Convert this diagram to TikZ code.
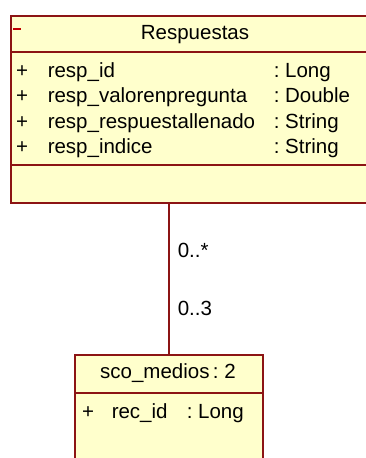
\documentclass[tikz,border=0pt]{standalone}
\usepackage{fontspec}
\setmainfont{Liberation Sans}
\definecolor{classfill}{RGB}{255,255,204}
\definecolor{classline}{RGB}{140,20,20}
\tikzset{
  classbox/.style={draw=classline,fill=classfill,anchor=north west,inner sep=0pt},
  txt/.style={anchor=base west,inner sep=0pt,font=\fontsize{20.5}{24}\selectfont},
  ctxt/.style={anchor=base,inner sep=0pt,font=\fontsize{20.5}{24}\selectfont}
}

\begin{document}
\begin{tikzpicture}[x=1pt,y=-1pt,line width=1.5pt]
  \useasboundingbox (0,0) rectangle (365,458);
  % class Respuestas
  \node[classbox,minimum width=370,minimum height=187] (resp) at (10,15) {};
  \draw[classline] (resp.west |- 0,52) -- (resp.east |- 0,52);
  \draw[classline] (resp.west |- 0,165) -- (resp.east |- 0,165);
  \draw[red!75!black,line width=1.2pt] (13,29) -- (21,29);
  \node[ctxt] (resptitle) at (195,39) {Respuestas};
  \foreach \name/\type [count=\i] in {resp\_id/Long,resp\_valorenpregunta/Double,resp\_respuestallenado/String,resp\_indice/String}{
    \node[ctxt] (plus\i) at (22,77+25.6*\i-25.6) {+};
    \node[txt] (attr\i) at (47,77+25.6*\i-25.6) {\name};
    \node[txt] (type\i) at (273,77+25.6*\i-25.6) {:~\type};
  }
  % class sco_medios
  \node[classbox,minimum width=188,minimum height=120] (medios) at (74,354) {};
  \draw[classline] (medios.west |- 0,393) -- (medios.east |- 0,393);
  \node[ctxt] (mediostitle) at (168,378) {sco\_medios\,:~2};
  \node[ctxt] (plusrec) at (88,418) {+};
  \node[txt] (recid) at (111,418) {rec\_id};
  \node[txt] (rectype) at (186,418) {:~Long};
  % association
  \draw[classline] (medios.north |- resp.south) -- (medios.north);
  \node[txt] (multtop) at (177,257) {0..*};
  \node[txt] (multbot) at (177,315) {0..3};
\end{tikzpicture}
\end{document}
